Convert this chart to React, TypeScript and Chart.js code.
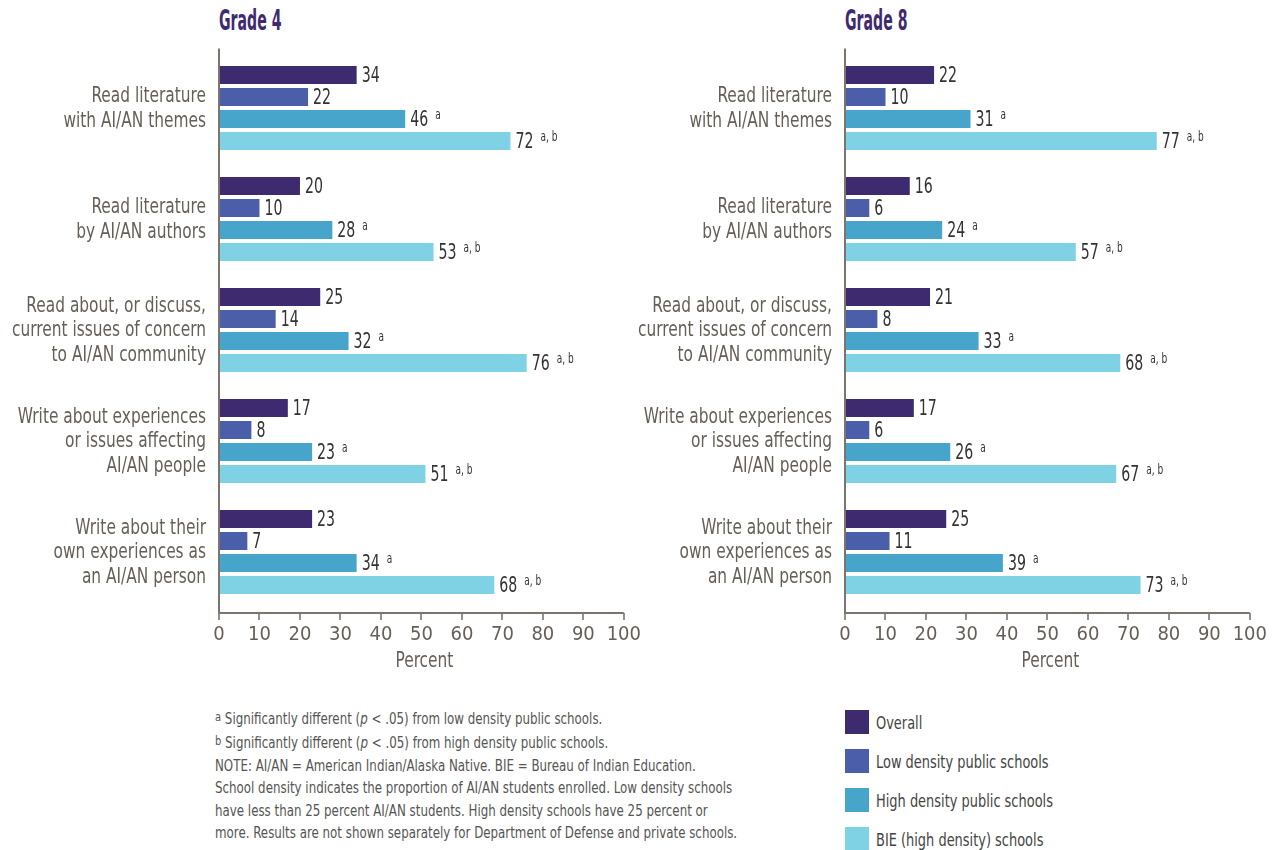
import React, { useEffect, useRef } from "react";
import { Chart, registerables } from "chart.js";

Chart.register(...registerables);

// ---------- DATA ----------
const categories: string[][] = [
  ["Read literature", "with AI/AN themes"],
  ["Read literature", "by AI/AN authors"],
  ["Read about, or discuss,", "current issues of concern", "to AI/AN community"],
  ["Write about experiences", "or issues affecting", "AI/AN people"],
  ["Write about their", "own experiences as", "an AI/AN person"],
];

const seriesNames = [
  "Overall",
  "Low density public schools",
  "High density public schools",
  "BIE (high density) schools",
];

const seriesNotes = ["", "", "a", "a, b"];

const grade4Overall = [34, 20, 25, 17, 23];
const grade4Low = [22, 10, 14, 8, 7];
const grade4High = [46, 28, 32, 23, 34];
const grade4BIE = [72, 53, 76, 51, 68];

const grade8Overall = [22, 16, 21, 17, 25];
const grade8Low = [10, 6, 8, 6, 11];
const grade8High = [31, 24, 33, 26, 39];
const grade8BIE = [77, 57, 68, 67, 73];

const xMin = 0;
const xMax = 100;
const xStep = 10;
const xTitle = "Percent";

const footnotes = [
  { sup: "a", text: " Significantly different (", italic: "p", rest: " < .05) from low density public schools." },
  { sup: "b", text: " Significantly different (", italic: "p", rest: " < .05) from high density public schools." },
];
const noteLines = [
  "NOTE: AI/AN = American Indian/Alaska Native. BIE = Bureau of Indian Education.",
  "School density indicates the proportion of AI/AN students enrolled. Low density schools",
  "have less than 25 percent AI/AN students. High density schools have 25 percent or",
  "more. Results are not shown separately for Department of Defense and private schools.",
];

// ---------- STYLE ----------
const COLORS = ["#3e2a6f", "#4a5ea9", "#47a4cb", "#7ed2e3"];
const NARROW = '"Liberation Sans Narrow", "DejaVu Sans Condensed", "Arial Narrow", sans-serif';
const LABEL_COLOR = "#665f57";
const AXIS_COLOR = "#7d756d";
const VALUE_COLOR = "#333333";
const TITLE_COLOR = "#3f2a70";

const CANVAS_W = 656;
const CANVAS_H = 700;
const AREA_TOP = 52.5;
const AREA_BOTTOM = 607.5;
const AXIS_LEFT = 219;
const PAD_RIGHT = 26;

const axisPlugin = {
  id: "customAxes",
  afterDraw(chart: any) {
    const { ctx, chartArea } = chart;
    const { left, right, top, bottom } = chartArea;
    const xs = chart.scales.x;
    const ys = chart.scales.y;
    const yAxisBottom = bottom + 5.5;
    ctx.save();
    ctx.strokeStyle = AXIS_COLOR;
    ctx.lineWidth = 2;
    ctx.beginPath();
    ctx.moveTo(left, top - 4);
    ctx.lineTo(left, yAxisBottom);
    ctx.lineTo(right, yAxisBottom);
    ctx.stroke();
    ctx.lineWidth = 1.6;
    ctx.beginPath();
    for (let v = xMin; v <= xMax; v += xStep) {
      const px = Math.round(xs.getPixelForValue(v));
      ctx.moveTo(px, yAxisBottom);
      ctx.lineTo(px, yAxisBottom + 7);
    }
    ctx.stroke();

    // category labels (horizontally condensed to match the narrow typeface)
    ctx.font = `21px ${NARROW}`;
    const k = 194 / ctx.measureText(categories[2][1]).width;
    ctx.fillStyle = LABEL_COLOR;
    ctx.textAlign = "right";
    ctx.textBaseline = "middle";
    const lh = 24.5;
    (chart.data.labels as string[][]).forEach((lines, i) => {
      const cy = ys.getPixelForValue(i);
      lines.forEach((line, j) => {
        const y = cy + (j - (lines.length - 1) / 2) * lh + 1;
        ctx.save();
        ctx.translate(left - 13, y);
        ctx.scale(k, 1);
        ctx.fillText(line, 0, 0);
        ctx.restore();
      });
    });

    // axis title
    ctx.save();
    ctx.translate((left + right) / 2 + 3, 662);
    ctx.scale(k, 1);
    ctx.textAlign = "center";
    ctx.font = `21px ${NARROW}`;
    ctx.fillText(xTitle, 0, 0);
    ctx.restore();
    ctx.restore();
  },
};

const valueLabelPlugin = {
  id: "valueLabels",
  afterDatasetsDraw(chart: any) {
    const ctx = chart.ctx;
    ctx.save();
    ctx.font = `22px ${NARROW}`;
    const k = 18 / ctx.measureText("34").width;
    chart.data.datasets.forEach((ds: any, di: number) => {
      const meta = chart.getDatasetMeta(di);
      meta.data.forEach((bar: any, i: number) => {
        const txt = String(ds.data[i]);
        const x = bar.x + 5;
        const y = bar.y + 1.5;
        ctx.save();
        ctx.translate(x, y);
        ctx.scale(k, 1);
        ctx.font = `22px ${NARROW}`;
        ctx.fillStyle = VALUE_COLOR;
        ctx.textAlign = "left";
        ctx.textBaseline = "middle";
        ctx.fillText(txt, 0, 0);
        const note = seriesNotes[di];
        if (note) {
          const w = ctx.measureText(txt).width;
          ctx.font = `14px ${NARROW}`;
          ctx.fillText(note, w + 7 / k, -5);
        }
        ctx.restore();
      });
    });
    ctx.restore();
  },
};

function makeConfig(values: number[][]): any {
  return {
    type: "bar",
    data: {
      labels: categories,
      datasets: seriesNames.map((name, i) => ({
        label: name,
        data: values[i],
        backgroundColor: COLORS[i],
        borderWidth: 0,
        categoryPercentage: 88 / 111,
        barPercentage: 18 / 22,
      })),
    },
    options: {
      indexAxis: "y",
      animation: false,
      responsive: false,
      maintainAspectRatio: false,
      layout: { padding: { top: AREA_TOP, right: PAD_RIGHT, left: 0, bottom: 0 } },
      plugins: {
        legend: { display: false },
        tooltip: { enabled: false },
        title: { display: false },
      },
      scales: {
        x: {
          type: "linear",
          min: xMin,
          max: xMax,
          ticks: {
            stepSize: xStep,
            color: LABEL_COLOR,
            font: { family: NARROW, size: 20 },
            padding: 15,
            maxRotation: 0,
            autoSkip: false,
          },
          grid: { display: false, drawTicks: false },
          border: { display: false },
          title: { display: false },
          afterFit(scale: any) {
            scale.height = CANVAS_H - AREA_BOTTOM;
          },
        },
        y: {
          type: "category",
          ticks: { display: false },
          grid: { display: false, drawTicks: false },
          border: { display: false },
          afterFit(scale: any) {
            scale.width = AXIS_LEFT;
          },
        },
      },
    },
    plugins: [axisPlugin, valueLabelPlugin],
  };
}

function BarPanel({ values, left, title }: { values: number[][]; left: number; title: string }) {
  const ref = useRef<HTMLCanvasElement | null>(null);
  useEffect(() => {
    if (!ref.current) return;
    const chart = new Chart(ref.current, makeConfig(values));
    return () => chart.destroy();
  }, [values]);
  return (
    <>
      <div
        style={{
          position: "absolute",
          left: left + AXIS_LEFT,
          top: 3,
          fontFamily: NARROW,
          fontWeight: 700,
          fontSize: 28,
          lineHeight: "36px",
          color: TITLE_COLOR,
          transform: "scaleX(0.56)",
          transformOrigin: "left center",
          whiteSpace: "nowrap",
        }}
      >
        {title}
      </div>
      <canvas
        ref={ref}
        width={CANVAS_W}
        height={CANVAS_H}
        style={{ position: "absolute", left, top: 0, width: CANVAS_W, height: CANVAS_H }}
      />
    </>
  );
}

const grade4 = [grade4Overall, grade4Low, grade4High, grade4BIE];
const grade8 = [grade8Overall, grade8Low, grade8High, grade8BIE];

export default function App() {
  return (
    <div
      style={{
        position: "absolute",
        left: 0,
        top: 0,
        width: 1276,
        height: 850,
        background: "#ffffff",
        overflow: "hidden",
      }}
    >
      <BarPanel values={grade4} left={0} title="Grade 4" />
      <BarPanel values={grade8} left={626} title="Grade 8" />

      <div
        style={{
          position: "absolute",
          left: 215,
          top: 706,
          fontFamily: NARROW,
          fontSize: 15.5,
          lineHeight: "22.4px",
          color: "#555555",
          whiteSpace: "nowrap",
          transform: "scaleX(0.85)",
          transformOrigin: "left top",
        }}
      >
        {footnotes.map((f, i) => (
          <div key={i}>
            <span style={{ fontSize: 13, verticalAlign: "3px" }}>{f.sup}</span>
            {f.text}
            <i>{f.italic}</i>
            {f.rest}
          </div>
        ))}
        {noteLines.map((l, i) => (
          <div key={"n" + i}>{l}</div>
        ))}
      </div>

      <div style={{ position: "absolute", left: 845, top: 710 }}>
        {seriesNames.map((name, i) => (
          <div
            key={name}
            style={{ display: "flex", alignItems: "center", height: 24, marginBottom: 15 }}
          >
            <div style={{ width: 24, height: 24, background: COLORS[i], flex: "none" }} />
            <div
              style={{
                marginLeft: 7,
                fontFamily: NARROW,
                fontSize: 18,
                color: "#444444",
                whiteSpace: "nowrap",
                transform: "scaleX(0.8)",
                transformOrigin: "left center",
              }}
            >
              {name}
            </div>
          </div>
        ))}
      </div>
    </div>
  );
}
